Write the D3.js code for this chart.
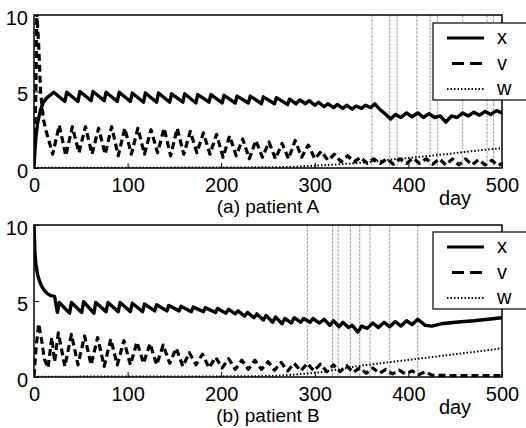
<!DOCTYPE html>
<html>
<head>
<meta charset="utf-8">
<script src="https://cdn.jsdelivr.net/npm/d3@7"></script>
<style>
  body { margin: 0; background: #fff; }
  text { font-family: "Liberation Sans", Arial, Helvetica, sans-serif; }
</style>
</head>
<body>
<script>

// tick labels
var xTicks = [0, 100, 200, 300, 400, 500];
var yTicks = [0, 5, 10];
var seriesNames = ["x", "v", "w"];

// patient A: [day, value]
var aX = [[0,0.2],[2,2.0],[4,3.0],[7,3.8],[10,4.3],[14,4.6],[18,4.8],[21,4.95],
  [33,4.35],[35,4.95],[47,4.35],[49,5.0],[61,4.4],[63,5.0],[75,4.4],[77,4.95],
  [89,4.35],[91,4.95],[103,4.35],[105,4.9],[117,4.3],[119,4.9],[131,4.3],[133,4.9],
  [145,4.3],[147,4.85],[159,4.3],[161,4.85],[173,4.25],[175,4.8],[187,4.3],[189,4.8],
  [201,4.25],[203,4.75],[215,4.25],[217,4.7],[229,4.25],[231,4.7],[243,4.2],[245,4.65],
  [257,4.2],[259,4.6],[271,4.15],[273,4.5],[280,4.2],[284,4.45],[290,4.2],[294,4.4],
  [300,4.1],[304,4.3],[310,4.0],[314,4.2],[320,3.95],[324,4.15],[330,3.9],[334,4.1],
  [340,3.85],[344,4.05],[350,3.9],[354,4.1],[360,3.95],[364,4.2],[370,3.8],[376,3.5],
  [381,3.2],[386,3.5],[392,3.3],[398,3.6],[404,3.35],[410,3.6],[416,3.3],[422,3.55],
  [428,3.3],[434,3.4],[440,3.0],[446,3.4],[452,3.3],[458,3.6],[464,3.4],[470,3.65],
  [476,3.45],[482,3.7],[488,3.5],[494,3.75],[500,3.6]];

var aV = [[0,0],[2,5],[3,10.2],[5,8],[7,5],[10,3.2],[13,2.4],[20,0.9],[27,2.8],[34,0.8],
  [41,2.7],[48,1.0],[55,2.7],[62,0.9],[69,2.6],[76,0.9],[83,2.7],[90,0.8],[97,2.6],
  [104,0.9],[111,2.6],[118,0.9],[125,2.5],[132,1.0],[139,2.6],[146,0.8],[153,2.6],
  [160,0.9],[167,2.4],[174,1.0],[181,2.3],[188,0.9],[195,2.2],[202,0.7],[209,2.1],
  [216,0.8],[223,1.9],[230,0.6],[237,1.8],[244,0.7],[251,1.7],[258,0.6],[265,1.6],
  [272,0.6],[279,1.8],[286,0.7],[293,1.5],[300,0.6],[307,1.1],[314,0.5],[321,0.9],
  [328,0.4],[335,0.8],[342,0.4],[349,0.7],[356,0.3],[363,0.6],[370,0.3],[377,0.6],
  [384,0.25],[391,0.6],[398,0.3],[405,0.65],[412,0.3],[419,0.6],[426,0.25],[433,0.6],
  [440,0.2],[447,0.6],[454,0.2],[461,0.6],[468,0.2],[475,0.55],[482,0.2],[489,0.5],
  [496,0.15],[500,0.3]];

var aW = [[0,0.02],[100,0.02],[200,0.03],[260,0.05],[280,0.08],[300,0.15],[320,0.22],
  [340,0.3],[360,0.4],[380,0.55],[400,0.65],[420,0.78],[440,0.9],[460,1.05],[480,1.18],
  [500,1.3]];

// faint vertical scan lines, patient A (days)
var aMarks = [361, 380, 388, 409, 423, 431, 458, 484, 491];

// patient B: [day, value]
var bX = [[0,10],[1,8.2],[2,7.4],[4,6.7],[6,6.3],[8,6.0],[11,5.7],[14,5.5],[18,5.35],
  [22,5.3],[25,4.25],[27,4.9],[38,4.2],[40,4.9],[51,4.25],[53,4.95],[64,4.2],[66,4.9],
  [77,4.3],[79,4.9],[90,4.3],[92,4.9],[103,4.3],[105,4.85],[116,4.3],[118,4.8],
  [129,4.35],[131,4.75],[142,4.35],[144,4.7],[155,4.35],[157,4.65],[168,4.3],[170,4.6],
  [181,4.3],[183,4.55],[194,4.25],[196,4.5],[205,4.2],[208,4.45],[215,4.15],[218,4.35],
  [225,4.0],[228,4.25],[235,3.9],[238,4.15],[245,3.75],[248,4.05],[255,3.6],[258,3.95],
  [265,3.5],[268,3.85],[275,3.55],[278,3.9],[285,3.6],[288,3.85],[295,3.6],[298,3.85],
  [305,3.55],[310,3.8],[316,3.4],[320,3.7],[326,3.3],[330,3.6],[336,3.25],[340,3.4],
  [346,2.95],[350,3.35],[356,3.2],[362,3.55],[368,3.25],[374,3.6],[380,3.3],[386,3.65],
  [392,3.35],[398,3.7],[404,3.45],[410,3.8],[418,3.4],[425,3.35],[435,3.5],[450,3.6],
  [470,3.7],[485,3.8],[500,3.9]];

var bV = [[0,0.05],[2,1.8],[5,3.5],[8,2.5],[11,1.2],[15,0.6],[19,2.6],[22,1.0],[26,2.9],
  [33,0.7],[40,2.8],[47,0.8],[54,2.7],[61,0.8],[68,2.6],[75,0.7],[82,2.5],[89,0.8],
  [96,2.4],[103,0.8],[110,2.3],[117,0.9],[124,2.2],[131,0.8],[138,2.1],[145,0.9],
  [152,1.9],[159,0.7],[166,1.6],[173,0.8],[180,1.5],[187,0.6],[194,1.3],[201,0.6],
  [208,1.2],[215,0.5],[222,1.1],[229,0.5],[236,1.1],[243,0.5],[250,1.0],[257,0.45],
  [264,0.95],[271,0.4],[278,0.9],[285,0.4],[292,0.9],[299,0.4],[306,0.85],[313,0.35],
  [320,0.8],[327,0.35],[334,0.75],[341,0.3],[348,0.6],[355,0.25],[362,0.6],[369,0.25],
  [376,0.5],[383,0.2],[390,0.45],[397,0.2],[404,0.4],[411,0.15],[418,0.35],[425,0.12],
  [440,0.1],[470,0.1],[500,0.1]];

var bW = [[0,0.02],[100,0.03],[200,0.04],[250,0.06],[270,0.12],[290,0.22],[310,0.35],
  [330,0.55],[350,0.75],[370,0.9],[390,1.05],[410,1.2],[430,1.35],[450,1.5],[470,1.65],
  [490,1.8],[500,1.9]];

// faint vertical scan lines, patient B (days)
var bMarks = [292, 319, 325, 338, 348, 359, 380, 410];

// layout of the two panels
var panels = [
  { id: "a", top: 15, bottom: 168, x: aX, v: aV, w: aW, marks: aMarks,
    title: "(a) patient A", legendTop: 23 },
  { id: "b", top: 225, bottom: 377, x: bX, v: bV, w: bW, marks: bMarks,
    title: "(b) patient B", legendTop: 232 }
];

var left = 34, right = 502;
var styles = {
  x: { width: 3.4, dash: null },
  v: { width: 3.2, dash: "7,4" },
  w: { width: 2, dash: "1.5,2" }
};
var legendDash = { x: null, v: "12,6", w: "1.5,2" };
var legendStart = { x: 447, v: 452, w: 447 };

var svg = d3.select("body")
            .append("svg")
            .attr("width", 526)
            .attr("height", 428);

panels.forEach(function(p) {

  var xScale = d3.scaleLinear().domain([0, 500]).range([left, right]);
  var yScale = d3.scaleLinear().domain([0, 10]).range([p.bottom, p.top]);

  var g = svg.append("g");

  g.append("clipPath")
   .attr("id", "clip-" + p.id)
   .append("rect")
   .attr("x", left)
   .attr("y", p.top)
   .attr("width", right - left)
   .attr("height", p.bottom - p.top);

  // faint scan lines
  g.selectAll(".mark")
   .data(p.marks)
   .enter()
   .append("line")
   .attr("x1", d => xScale(d))
   .attr("x2", d => xScale(d))
   .attr("y1", p.top)
   .attr("y2", p.bottom)
   .attr("stroke", "#8a8a8a")
   .attr("stroke-width", 0.8)
   .attr("stroke-dasharray", "3,1");

  var line = d3.line()
               .x(d => xScale(d[0]))
               .y(d => yScale(d[1]));

  var plot = g.append("g").attr("clip-path", "url(#clip-" + p.id + ")");

  ["w", "v", "x"].forEach(function(name) {
    plot.append("path")
        .datum(p[name])
        .attr("d", line)
        .attr("fill", "none")
        .attr("stroke", "#000")
        .attr("stroke-width", styles[name].width)
        .attr("stroke-dasharray", styles[name].dash)
        .attr("stroke-linejoin", "round");
  });

  // axes box with inward ticks
  var xAxis = d3.axisBottom(xScale)
                .tickValues(xTicks)
                .tickSizeInner(-5)
                .tickSizeOuter(0)
                .tickPadding(10);
  var yAxis = d3.axisLeft(yScale)
                .tickValues(yTicks)
                .tickSizeInner(-5)
                .tickSizeOuter(0)
                .tickPadding(6);

  var xg = g.append("g")
            .attr("transform", "translate(0," + p.bottom + ")")
            .call(xAxis);
  var yg = g.append("g")
            .attr("transform", "translate(" + left + ",0)")
            .call(yAxis);

  [xg, yg].forEach(function(ax) {
    ax.select(".domain").remove();
    ax.selectAll("line").attr("stroke", "#000").attr("stroke-width", 1);
    ax.selectAll("text")
      .attr("font-size", "20px")
      .attr("fill", "#000");
  });
  xg.selectAll("text").attr("dy", "0.71em");
  yg.selectAll("text").attr("dy", "0.45em");

  g.append("rect")
   .attr("x", left)
   .attr("y", p.top)
   .attr("width", right - left)
   .attr("height", p.bottom - p.top)
   .attr("fill", "none")
   .attr("stroke", "#000")
   .attr("stroke-width", 1.5);

  // captions
  g.append("text")
   .attr("x", 268)
   .attr("y", p.bottom + 45)
   .attr("text-anchor", "middle")
   .attr("font-size", "19px")
   .text(p.title);

  g.append("text")
   .attr("x", 455)
   .attr("y", p.bottom + 37)
   .attr("text-anchor", "middle")
   .attr("font-size", "20px")
   .text("day");

  // legend
  var lg = g.append("g");
  lg.append("rect")
    .attr("x", 433)
    .attr("y", p.legendTop)
    .attr("width", 100)
    .attr("height", 77)
    .attr("fill", "#fff")
    .attr("stroke", "#000")
    .attr("stroke-width", 1.2);

  seriesNames.forEach(function(name, i) {
    var yy = p.legendTop + 15 + i * 25.5;
    lg.append("line")
      .attr("x1", legendStart[name])
      .attr("x2", 484)
      .attr("y1", yy)
      .attr("y2", yy)
      .attr("stroke", "#000")
      .attr("stroke-width", name === "w" ? 2 : 3)
      .attr("stroke-dasharray", legendDash[name]);
    lg.append("text")
      .attr("x", 497)
      .attr("y", yy + 6)
      .attr("font-size", "20px")
      .text(name);
  });
});

</script>
</body>
</html>
